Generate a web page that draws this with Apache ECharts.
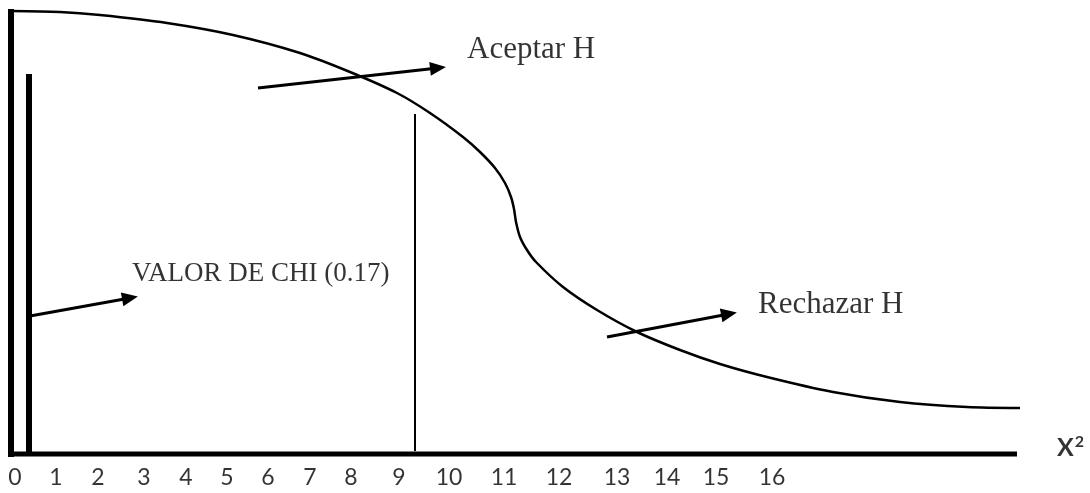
<!DOCTYPE html>
<html>
<head>
<meta charset="utf-8">
<script src="https://cdn.jsdelivr.net/npm/echarts@6/dist/echarts.min.js"></script>
<style>
  html, body { margin: 0; padding: 0; background: #fff; }
  #main { width: 1090px; height: 493px; }
</style>
</head>
<body>
<div id="main"></div>
<script>
// diagram units: x to the right, y downward (same size as the picture)
var curveX = [11, 60, 100, 167, 233, 300, 350, 397, 430, 463, 480, 495, 505, 511, 514, 516, 520, 527, 536, 563, 597, 637, 680, 720, 767, 833, 900, 967, 1020];
var curveY = [11, 12, 15, 23, 35, 53, 72, 93, 113, 137, 152, 168, 183, 197, 209, 222, 237, 250, 262, 287, 310, 332, 350, 364, 377, 392, 402, 407, 408];

var tickLabels = ['0', '1', '2', '3', '4', '5', '6', '7', '8', '9', '10', '11', '12', '13', '14', '15', '16'];
var tickPos = [15, 56, 98, 144, 186, 227, 268, 310, 351, 399, 449, 504, 559, 617, 667, 716, 772];
var tickRow = 478;

var chiText = 'VALOR DE CHI (0.17)';
var chiLineX = 415;

// arrows: [from, to]
var arrowAceptar = [[258, 88], [438, 68]];
var arrowRechazar = [[607, 337], [729, 314]];
var arrowLeft = [[30, 316], [130, 298]];

var myChart = echarts.init(document.getElementById('main'));

function seg(points, width) {
    return {
        type: 'line',
        data: points,
        symbol: 'none',
        silent: true,
        lineStyle: { color: '#000', width: width },
        z: 3
    };
}

function arrow(pts) {
    return {
        silent: true,
        symbol: ['none', 'triangle'],
        symbolSize: [14, 16],
        label: { show: false },
        lineStyle: { color: '#000', width: 3, type: 'solid' },
        data: [[{ coord: pts[0] }, { coord: pts[1] }]]
    };
}

var option = {
    animation: false,
    grid: { left: 0, right: 0, top: 0, bottom: 0 },
    xAxis: { type: 'value', min: 0, max: 1090, show: false },
    yAxis: { type: 'value', min: 0, max: 493, inverse: true, show: false },
    series: [
        // curve
        {
            type: 'line',
            data: curveX.map(function (x, i) { return [x, curveY[i]]; }),
            smooth: 0.3,
            symbol: 'none',
            silent: true,
            lineStyle: { color: '#000', width: 2.5 },
            markLine: arrow(arrowAceptar)
        },
        // axes drawn as thick strokes
        seg([[11, 9], [11, 457]], 6),
        seg([[8, 454], [1017, 454]], 5),
        seg([[29, 74], [29, 452]], 6),
        Object.assign(seg([[chiLineX, 114], [chiLineX, 451]], 2), { markLine: arrow(arrowRechazar) }),
        Object.assign(seg([[30, 316], [30, 316]], 0), { markLine: arrow(arrowLeft) }),
        // tick labels
        {
            type: 'scatter',
            symbolSize: 0,
            silent: true,
            data: tickLabels.map(function (t, i) { return { value: [tickPos[i], tickRow], name: t }; }),
            label: {
                show: true,
                position: 'inside',
                formatter: '{b}',
                color: '#000',
                fontFamily: 'Lato',
                fontSize: 23
            }
        },
        // text labels
        {
            type: 'scatter',
            symbolSize: 0,
            silent: true,
            data: [
                { value: [467, 50], name: 'Aceptar H' },
                { value: [758, 305], name: 'Rechazar H' }
            ],
            label: {
                show: true,
                position: 'right',
                distance: 0,
                formatter: '{b}',
                color: '#000',
                fontFamily: 'Liberation Serif',
                fontSize: 31
            }
        },
        {
            type: 'scatter',
            symbolSize: 0,
            silent: true,
            data: [{ value: [132, 274], name: chiText }],
            label: {
                show: true,
                position: 'right',
                distance: 0,
                formatter: '{b}',
                color: '#000',
                fontFamily: 'Liberation Serif',
                fontSize: 27
            }
        },
        {
            type: 'scatter',
            symbolSize: 0,
            silent: true,
            data: [{ value: [1057, 448], name: 'X' }],
            label: {
                show: true,
                position: 'right',
                distance: 0,
                formatter: '{x|X}{s|2}',
                rich: {
                    x: { color: '#000', fontFamily: 'Lato', fontWeight: 'bold', fontSize: 25 },
                    s: { color: '#000', fontFamily: 'Lato', fontWeight: 'bold', fontSize: 16, verticalAlign: 'top', padding: [0, 0, 12, 1] }
                }
            }
        }
    ]
};

myChart.setOption(option);
</script>
</body>
</html>
